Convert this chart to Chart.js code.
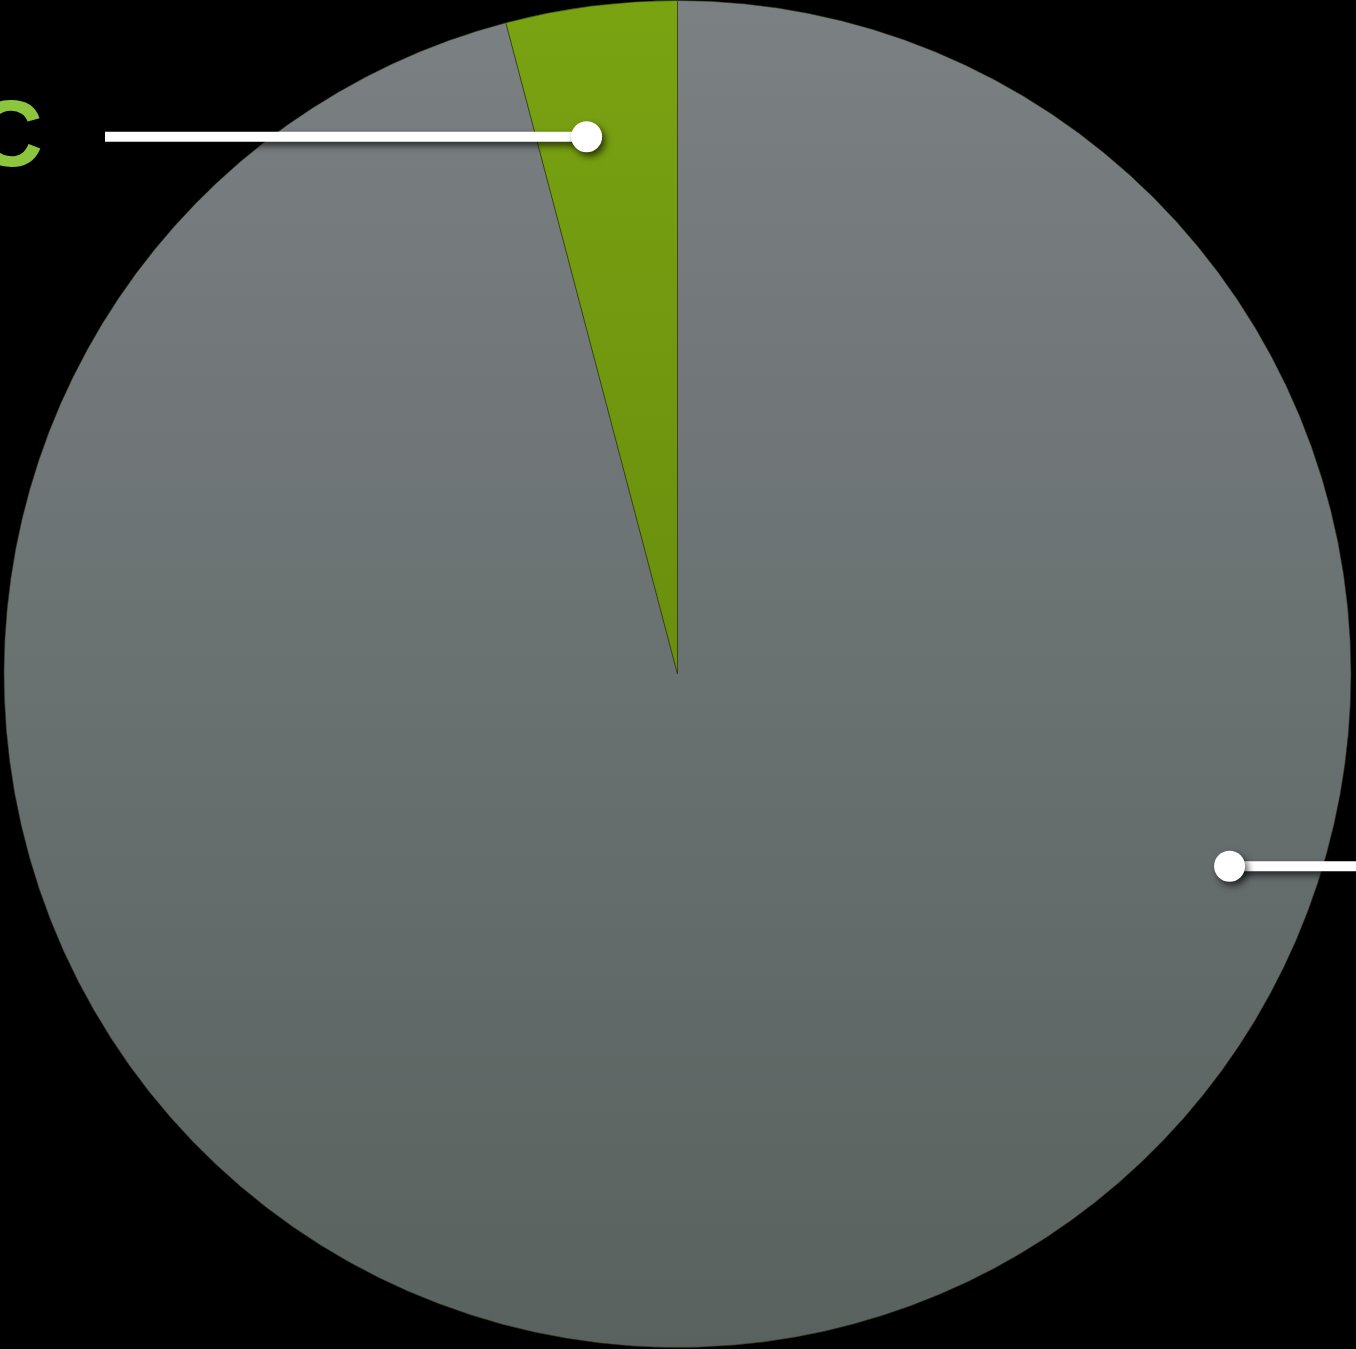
<!DOCTYPE html>
<html>
<head>
<meta charset="utf-8">
<script src="https://cdn.jsdelivr.net/npm/chart.js@4.4.1/dist/chart.umd.min.js"></script>
<style>
    html, body { margin: 0; padding: 0; background: #000; overflow: hidden; }
    #wrap { width: 1356px; height: 1349px; position: relative; }
</style>
</head>
<body>
<div id="wrap"><canvas id="chart-share"></canvas></div>
<script>
// Slice data: the big grey share and the small green "C" share
const categories = ['', 'C'];
const shares = [95.9, 4.1];

// top / bottom stops of each slice's vertical gradient
const gradTop = ['#7b8083', '#7aa312'];
const gradBottom = ['#59625f', '#5a7a08'];
const labelColors = ['#ffffff', '#8cc63f'];

// callout anchors: angle from 12 o'clock (deg, clockwise), fraction of radius, far end of the leader
const callouts = [
    { angle: 109.2, r: 0.868, endX: 1400, side: 'right' },
    { angle: -9.6, r: 0.809, endX: 105, side: 'left' }
];

const calloutPlugin = {
    id: 'callouts',
    afterDatasetsDraw(chart) {
        const { ctx } = chart;
        const arcs = chart.getDatasetMeta(0).data;
        if (!arcs.length) return;
        const cx = arcs[0].x, cy = arcs[0].y, R = arcs[0].outerRadius;

        callouts.forEach((c, i) => {
            const a = c.angle * Math.PI / 180;
            const px = cx + Math.sin(a) * R * c.r;
            const py = cy - Math.cos(a) * R * c.r;

            ctx.save();
            ctx.shadowColor = 'rgba(0,0,0,0.65)';
            ctx.shadowBlur = 7;
            ctx.shadowOffsetX = 3;
            ctx.shadowOffsetY = 4;
            ctx.strokeStyle = '#ffffff';
            ctx.lineWidth = 10;
            ctx.beginPath();
            ctx.moveTo(px, py);
            ctx.lineTo(c.endX, py);
            ctx.stroke();
            ctx.fillStyle = '#ffffff';
            ctx.beginPath();
            ctx.arc(px, py, 15.5, 0, Math.PI * 2);
            ctx.fill();
            ctx.restore();

            const text = categories[i];
            if (!text) return;
            ctx.save();
            ctx.fillStyle = labelColors[i];
            ctx.font = 'bold 94px "Liberation Sans", Arial, sans-serif';
            ctx.textBaseline = 'middle';
            ctx.textAlign = c.side === 'left' ? 'right' : 'left';
            const tx = c.side === 'left' ? c.endX - 62 : c.endX + 62;
            ctx.fillText(text, tx, py + 3);
            ctx.restore();
        });
    }
};

function sliceGradient(context) {
    const chart = context.chart;
    const { ctx: c, chartArea } = chart;
    const i = context.dataIndex;
    if (!chartArea) return gradTop[i];
    const g = c.createLinearGradient(0, chartArea.top, 0, chartArea.bottom);
    g.addColorStop(0, gradTop[i]);
    g.addColorStop(1, gradBottom[i]);
    return g;
}

new Chart(document.getElementById('chart-share'), {
    type: 'pie',
    data: {
        labels: categories,
        datasets: [{
            data: shares,
            backgroundColor: sliceGradient,
            borderColor: 'rgba(40,50,20,0.55)',
            borderWidth: 1
        }]
    },
    options: {
        responsive: true,
        maintainAspectRatio: false,
        animation: false,
        layout: { padding: { top: 0, bottom: 1, left: 2, right: 3 } },
        plugins: {
            legend: { display: false },
            tooltip: { enabled: false }
        }
    },
    plugins: [calloutPlugin]
});
</script>
</body>
</html>
